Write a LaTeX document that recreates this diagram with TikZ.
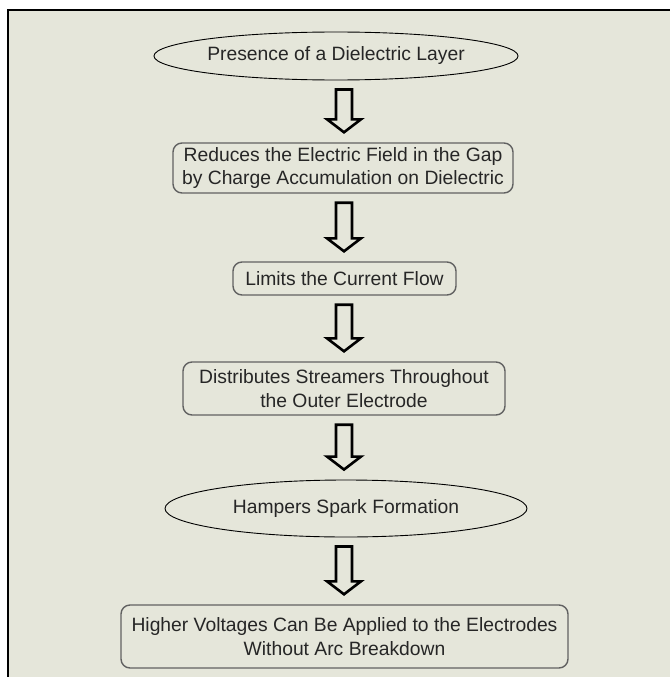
\documentclass[tikz,border=0pt]{standalone}
\usepackage{fontspec}
\setmainfont{Liberation Sans}
\usetikzlibrary{positioning,shapes.geometric,calc}

\definecolor{panel}{RGB}{229,230,218}
\definecolor{ink}{RGB}{38,38,38}

\newcommand{\colx}{344pt}
% hollow block arrow from one node down to the next
\newcommand{\flowarrow}[2]{%
  \draw[hollow] let \p1=(#1.south), \p2=(#2.north) in
    ({\colx-8pt},{\y1-9pt}) -- ({\colx+8pt},{\y1-9pt})
    -- ({\colx+8pt},{\y2+23pt}) -- ({\colx+17pt},{\y2+23pt})
    -- ({\colx},{\y2+10pt}) -- ({\colx-17pt},{\y2+23pt})
    -- ({\colx-8pt},{\y2+23pt}) -- cycle;}

\begin{document}
\begin{tikzpicture}[
  x=1pt, y=-1pt,
  oval/.style={draw, ellipse, line width=0.9pt, inner sep=0pt, text=ink,
               font=\fontsize{19.3}{23.5}\selectfont},
  stepbox/.style={draw=black!62, line width=1.4pt, rounded corners=9pt,
                  inner sep=2pt, align=center, text=ink,
                  font=\fontsize{19.3}{23.5}\selectfont},
  hollow/.style={draw=black, line width=2.6pt, miter limit=10, fill=panel}
]
\useasboundingbox (0,0) rectangle (670,677);
\fill[white] (0,0) rectangle (670,677);
\fill[panel] (8,10) rectangle (670,677);
\draw[line width=2pt] (8,677) -- (8,10) -- (670,10);

\node[oval, minimum width=362pt, minimum height=48pt] (layer) at (336,56) {Presence of a Dielectric Layer};
\node[stepbox, minimum width=340pt, minimum height=50pt] (field) at (343,168)
  {Reduces the Electric Field in the Gap\\by Charge Accumulation on Dielectric};
\node[stepbox, minimum width=223pt, minimum height=33pt] (current) at (344.5,278.5) {Limits the Current Flow};
\node[stepbox, minimum width=322pt, minimum height=53pt] (streamers) at (344,388.5)
  {Distributes Streamers Throughout\\the Outer Electrode};
\node[oval, minimum width=362pt, minimum height=57pt] (spark) at (346,508.5) {Hampers Spark Formation};
\node[stepbox, minimum width=447pt, minimum height=63pt] (voltage) at (344.5,636.5)
  {Higher Voltages Can Be Applied to the Electrodes\\Without Arc Breakdown};

\flowarrow{layer}{field}
\flowarrow{field}{current}
\flowarrow{current}{streamers}
\flowarrow{streamers}{spark}
\flowarrow{spark}{voltage}
\end{tikzpicture}
\end{document}
